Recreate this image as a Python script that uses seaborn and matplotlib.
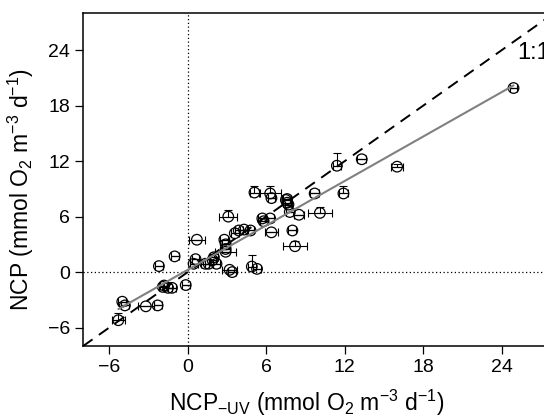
import numpy as np
import matplotlib
matplotlib.use("Agg")
import matplotlib.pyplot as plt
import seaborn as sns

# NCP_-UV (x) vs NCP (y), mmol O2 m-3 d-1
ncp_uv = [24.9, 13.3, 16.0, 11.4, 9.7, 11.9, 5.1, 6.3, 6.4, 7.5,
          7.6, 7.7, 7.6, 7.8, 8.5, 10.1, 3.1, 5.7, 5.8, 6.3,
          6.4, 8.0, 8.2, 3.6, 3.9, 4.3, 4.8, 0.7, 2.8, 2.9,
          2.9, 2.9, 2.0, 1.9, 2.2, 1.6, 1.35, 0.6, 0.45, 3.2,
          3.4, 4.9, 5.3, -1.0, -2.2, -0.15, -1.8, -1.5, -1.2, -1.9,
          -5.0, -4.8, -3.2, -2.3, -5.3]
ncp = [19.9, 12.2, 11.4, 11.5, 8.5, 8.5, 8.6, 8.5, 8.0, 7.8,
       7.5, 7.3, 7.9, 6.5, 6.2, 6.4, 6.0, 5.8, 5.5, 5.8,
       4.3, 4.5, 2.8, 4.2, 4.5, 4.6, 4.5, 3.5, 3.5, 3.0,
       2.2, 2.5, 1.6, 1.3, 0.9, 0.9, 0.9, 1.4, 0.9, 0.25,
       0.0, 0.6, 0.35, 1.7, 0.65, -1.4, -1.45, -1.7, -1.7, -1.6,
       -3.2, -3.6, -3.7, -3.6, -5.2]
err_x = [0.3, 0.35, 0.45, 0.3, 0.35, 0.35, 0.35, 0.8, 0.3, 0.3,
         0.3, 0.3, 0.3, 0.3, 0.35, 0.9, 0.7, 0.3, 0.3, 0.3,
         0.5, 0.3, 0.9, 0.3, 0.3, 0.3, 0.3, 0.6, 0.3, 0.3,
         0.8, 0.3, 0.3, 0.3, 0.3, 0.3, 0.3, 0.3, 0.3, 0.6,
         0.3, 0.3, 0.3, 0.3, 0.3, 0.3, 0.3, 0.3, 0.3, 0.3,
         0.3, 0.3, 0.6, 0.3, 0.5]
err_y_up = [0, 0, 0.3, 1.4, 0, 0.8, 0.7, 0.8, 0, 0,
            0, 0, 0, 0, 0, 0.6, 0.7, 0, 0, 0,
            0, 0, 0.6, 0, 0, 0, 0, 0, 0, 0,
            0, 0, 0.4, 0, 0, 0, 0, 0, 0, 0,
            0, 1.2, 0, 0, 0, 0, 0, 0, 0, 0,
            0, 0, 0, 0, 0.8]

x_ticks = [-6, 0, 6, 12, 18, 24]
y_ticks = [-6, 0, 6, 12, 18, 24]

sns.set_style("ticks")
plt.rcParams["font.family"] = ["Liberation Sans", "DejaVu Sans"]
plt.rcParams["mathtext.fontset"] = "custom"
plt.rcParams["mathtext.rm"] = "Liberation Sans"
plt.rcParams["text.color"] = "black"
plt.rcParams["axes.labelcolor"] = "black"
plt.rcParams["xtick.color"] = "black"
plt.rcParams["ytick.color"] = "black"

fig = plt.figure(figsize=(5.44, 4.16), dpi=100)
# axes run past the right edge, like the cropped original
ax = fig.add_axes([0.1526, 0.168, 0.866, 0.8005])

ax.axhline(0, color="black", lw=0.9, ls=(0, (1, 2)), zorder=1)
ax.axvline(0, color="black", lw=0.9, ls=(0, (1, 2)), zorder=1)
ax.axline((0, 0), slope=1, color="black", lw=1.4, ls=(0, (6, 4)), zorder=2)

ax.errorbar(ncp_uv, ncp, xerr=err_x, yerr=[np.zeros(len(ncp)), err_y_up],
            fmt="none", ecolor="black", elinewidth=0.8, capsize=3, capthick=0.8, zorder=3)
sns.scatterplot(x=ncp_uv, y=ncp, ax=ax, marker="o", s=58, facecolor="none",
                edgecolor="black", linewidth=0.9, zorder=4)
sns.regplot(x=ncp_uv, y=ncp, ax=ax, scatter=False, ci=None,
            line_kws={"color": "#808080", "lw": 1.5, "zorder": 5})

ax.text(25.2, 23.7, "1:1", fontsize=17, ha="left", va="center")

ax.set_xlim(-8, 28)
ax.set_ylim(-8, 28)
ax.set_xticks(x_ticks)
ax.set_yticks(y_ticks)
ax.tick_params(labelsize=14, length=6, width=0.9, direction="out", color="black",
               labelcolor="black")
for s in ax.spines.values():
    s.set_linewidth(1.1)
    s.set_color("black")

ax.set_xlabel("NCP$_{\\mathregular{\u2212UV}}$ (mmol O$_{\\mathregular{2}}$ m$^{\\mathregular{\u22123}}$ d$^{\\mathregular{\u22121}}$)",
              fontsize=16.5)
ax.set_ylabel("NCP (mmol O$_{\\mathregular{2}}$ m$^{\\mathregular{\u22123}}$ d$^{\\mathregular{\u22121}}$)",
              fontsize=16.5)
ax.xaxis.set_label_coords(0.4756, -0.125)
ax.yaxis.set_label_coords(-0.1, 0.471)

fig.savefig("out.png", dpi=100)
